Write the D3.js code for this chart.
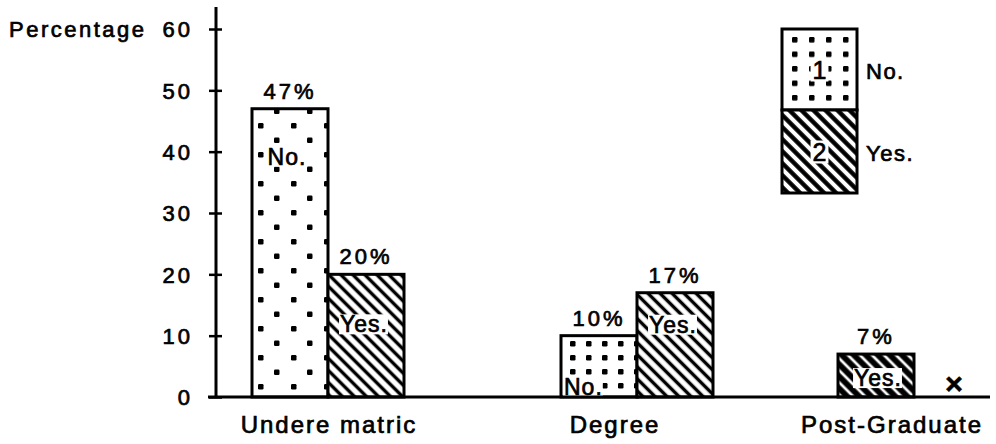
<!DOCTYPE html>
<html><head><meta charset="utf-8">
<script src="https://cdn.jsdelivr.net/npm/d3@7"></script>
<style>
html,body{margin:0;padding:0;background:#fff;}
svg{display:block;}
text{font-family:"Liberation Sans",Arial,Helvetica,sans-serif;fill:#000;stroke:#000;stroke-width:0.7px;}
</style>
</head><body>
<svg id="chart" width="996" height="444"></svg>
<script>
// ---- data ----
const categories = ["Undere matric", "Degree", "Post-Graduate"];
const noValues = [47, 10, null];
const yesValues = [20, 17, 7];
const noLabels = ["47%", "10%", ""];
const yesLabels = ["20%", "17%", "7%"];
const yTicks = [0, 10, 20, 30, 40, 50, 60];
const yTitle = "Percentage";
const seriesKeys = ["No", "Yes"];
const seriesInner = ["No.", "Yes."];
const legendNumbers = ["1", "2"];
const legendLabels = ["No.", "Yes."];
const missingMark = "×";

// ---- layout ----
const svg = d3.select("#chart");
const W = 996, H = 444;
svg.append("rect").attr("width", W).attr("height", H).attr("fill", "#fff");

const y = d3.scaleLinear().domain([0, 60]).range([397, 29]);
const axisX = 216;
const groupX = d3.scaleOrdinal().domain(categories).range([252, 561, 838]);
const labelX = d3.scaleOrdinal().domain(categories).range([329, 615, 892]);
const slot = d3.scaleBand().domain([0, 1]).range([0, 152]).padding(0);
const slotOrder = {
  "Undere matric": ["No", "Yes"],
  "Degree": ["No", "Yes"],
  "Post-Graduate": ["Yes", "No"]
};

// ---- patterns ----
const defs = svg.append("defs");
function dotPattern(id, w, h, ox, oy, pts, s) {
  const p = defs.append("pattern").attr("id", id).attr("patternUnits", "userSpaceOnUse")
    .attr("x", ox).attr("y", oy).attr("width", w).attr("height", h);
  p.append("rect").attr("width", w).attr("height", h).attr("fill", "#fff");
  pts.forEach(([px, py]) => p.append("rect").attr("x", px).attr("y", py)
    .attr("width", s).attr("height", s).attr("rx", 1.2).attr("fill", "#000"));
}
dotPattern("dotsA", 33, 29, 258, 123, [[0, 0], [16, 14.5]], 5.5);
dotPattern("dotsB", 16, 14, 570, 341, [[0, 0]], 5.5);
dotPattern("dotsL", 17, 14.5, 792, 37, [[0, 0]], 5.5);
function hatch(id, sw) {
  const p = defs.append("pattern").attr("id", id).attr("patternUnits", "userSpaceOnUse")
    .attr("width", 8.5).attr("height", 8.5)
    .attr("patternTransform", "rotate(-45)");
  p.append("rect").attr("width", 8.5).attr("height", 8.5).attr("fill", "#fff");
  p.append("line").attr("x1", 4.25).attr("x2", 4.25).attr("y1", -1).attr("y2", 10)
    .attr("stroke", "#000").attr("stroke-width", sw);
}
hatch("hatchA", 3.4);
hatch("hatchL", 4.4);
hatch("hatchD", 5.8);

const fillFor = {
  "Undere matric|No": "url(#dotsA)",
  "Degree|No": "url(#dotsB)",
  "Undere matric|Yes": "url(#hatchA)",
  "Degree|Yes": "url(#hatchA)",
  "Post-Graduate|Yes": "url(#hatchD)"
};
// inner label placement: baseline offset from bar top (px), anchor
const innerPos = {
  "Undere matric|No": {dy: 56, anchor: "middle", dx: -3},
  "Undere matric|Yes": {dy: 58, anchor: "middle", dx: -2},
  "Degree|No": {dy: 59, anchor: "start", dx: 3},
  "Degree|Yes": {dy: 40, anchor: "middle", dx: -2},
  "Post-Graduate|Yes": {dy: 32, anchor: "middle", dx: 2}
};

// ---- bars data ----
const bars = [];
categories.forEach((c, i) => {
  [noValues[i], yesValues[i]].forEach((v, k) => {
    bars.push({cat: c, key: seriesKeys[k], inner: seriesInner[k], value: v,
      label: k === 0 ? noLabels[i] : yesLabels[i]});
  });
});
const barX = d => groupX(d.cat) + slot(slotOrder[d.cat].indexOf(d.key));
const present = bars.filter(d => d.value != null);
const missing = bars.filter(d => d.value == null);

const gBars = svg.append("g");
gBars.selectAll("rect.bar").data(present).join("rect").attr("class", "bar")
  .attr("x", barX).attr("y", d => y(d.value))
  .attr("width", slot.bandwidth()).attr("height", d => y(0) - y(d.value))
  .attr("fill", d => fillFor[d.cat + "|" + d.key])
  .attr("stroke", "#000").attr("stroke-width", 3);

// inner labels with white backing
present.forEach(d => {
  const pos = innerPos[d.cat + "|" + d.key];
  const bx = barX(d);
  const tx = pos.anchor === "middle" ? bx + slot.bandwidth() / 2 + pos.dx : bx + pos.dx;
  const ty = y(d.value) + pos.dy;
  const g = gBars.append("g");
  const t = g.append("text").attr("x", tx).attr("y", ty).attr("text-anchor", pos.anchor)
    .attr("font-size", 23).attr("letter-spacing", 1).text(d.inner);
  const bb = t.node().getBBox();
  g.insert("rect", "text").attr("x", bb.x - 1).attr("y", bb.y + 3)
    .attr("width", Math.min(bb.width + 1, slot.bandwidth() - 4)).attr("height", bb.height - 6)
    .attr("fill", "#fff");
});

// value labels
gBars.selectAll("text.val").data(present).join("text").attr("class", "val")
  .attr("x", d => barX(d) + slot.bandwidth() / 2)
  .attr("y", d => y(d.value) - 10)
  .attr("text-anchor", "middle").attr("font-size", 22).attr("letter-spacing", 3)
  .text(d => d.label);

// missing marks
gBars.selectAll("text.miss").data(missing).join("text").attr("class", "miss")
  .attr("x", d => barX(d) + slot.bandwidth() / 2 + 2)
  .attr("y", y(0) - 3)
  .attr("text-anchor", "middle").attr("font-size", 30).attr("font-weight", "bold")
  .text(missingMark);

// ---- axes ----
const yAxis = d3.axisLeft(y).tickValues(yTicks).tickSize(7).tickPadding(16).tickFormat(d3.format("d"));
const gy = svg.append("g").attr("transform", `translate(${axisX},0)`).call(yAxis);
gy.select(".domain").remove();
gy.selectAll(".tick line").attr("x2", 6).attr("x1", -7).attr("stroke", "#000").attr("stroke-width", 2.5);
gy.selectAll(".tick text").attr("font-size", 22).attr("letter-spacing", 3)
  .attr("font-family", "Liberation Sans, Arial, sans-serif").attr("fill", "#000")
  .attr("stroke", "#000").attr("stroke-width", 0.7).attr("dy", "0.36em");
svg.append("line").attr("x1", axisX).attr("x2", axisX).attr("y1", 7).attr("y2", y(0))
  .attr("stroke", "#000").attr("stroke-width", 3);
svg.append("line").attr("x1", 208).attr("x2", 990).attr("y1", y(0)).attr("y2", y(0))
  .attr("stroke", "#000").attr("stroke-width", 3);

svg.append("text").attr("x", 9).attr("y", 37).attr("font-size", 22).attr("letter-spacing", 2.5)
  .text(yTitle);

// category labels
svg.selectAll("text.cat").data(categories).join("text").attr("class", "cat")
  .attr("x", d => labelX(d)).attr("y", 433).attr("text-anchor", "middle")
  .attr("font-size", 24).attr("letter-spacing", 2).text(d => d);

// ---- legend ----
const lg = svg.append("g");
const lx = 782, lw = 75, ly0 = 29, lMid = 110, ly1 = 193;
const legFills = ["url(#dotsL)", "url(#hatchL)"];
const legRows = [[ly0, lMid], [lMid, ly1]];
legRows.forEach(([a, b], i) => {
  lg.append("rect").attr("x", lx).attr("y", a).attr("width", lw).attr("height", b - a)
    .attr("fill", legFills[i]).attr("stroke", "#000").attr("stroke-width", 3);
  const g = lg.append("g");
  const t = g.append("text").attr("x", lx + lw / 2).attr("y", (a + b) / 2 + 9)
    .attr("text-anchor", "middle").attr("font-size", 25).text(legendNumbers[i]);
  const bb = t.node().getBBox();
  g.insert("rect", "text").attr("x", bb.x - 2).attr("y", bb.y + 3).attr("width", bb.width + 4)
    .attr("height", bb.height - 5).attr("fill", "#fff");
  lg.append("text").attr("x", lx + lw + 9).attr("y", (a + b) / 2 + 9)
    .attr("font-size", 22).attr("letter-spacing", 1.5).text(legendLabels[i]);
});
</script>
</body></html>
